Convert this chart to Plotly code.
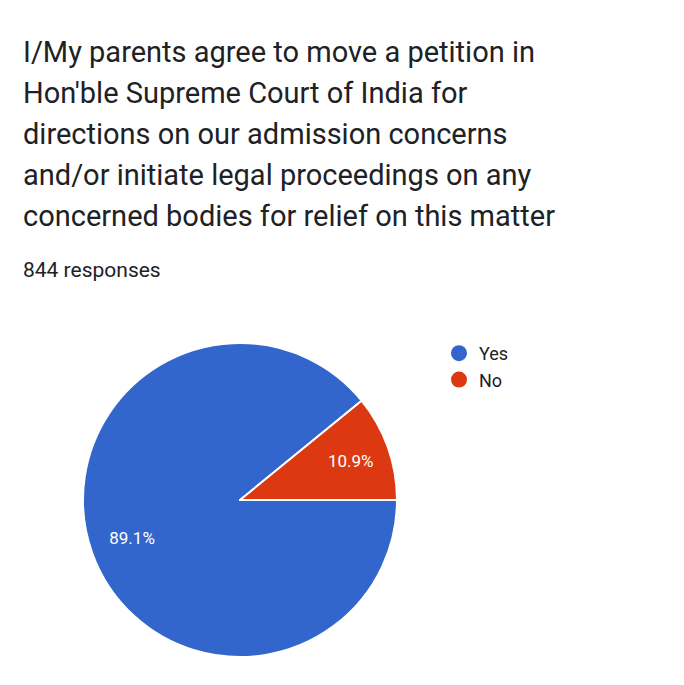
import plotly.graph_objects as go

title_lines = [
    "I/My parents agree to move a petition in",
    "Hon'ble Supreme Court of India for",
    "directions on our admission concerns",
    "and/or initiate legal proceedings on any",
    "concerned bodies for relief on this matter",
]
subtitle = "844 responses"
labels = ["Yes", "No"]
values = [752, 92]
colors = ["#3366cc", "#dc3912"]

W, H = 684, 685
dom = dict(x=[83 / W, 397 / W], y=[1 - 657 / H, 1 - 343 / H])
fig = go.Figure()
fig.add_trace(go.Pie(
    labels=labels, values=values, sort=False, direction="clockwise", rotation=90,
    marker=dict(colors=colors, line=dict(color="white", width=2)),
    textinfo="none", showlegend=False, hoverinfo="label+percent", domain=dom,
))
# text layer: same data, transparent ring so labels sit at ~0.73 of the radius
fig.add_trace(go.Pie(
    labels=labels, values=values, sort=False, direction="clockwise", rotation=90,
    hole=0.46,
    marker=dict(colors=["rgba(0,0,0,0)"] * len(values), line=dict(width=0)),
    texttemplate="%{percent:.1%}", textposition="inside",
    insidetextorientation="horizontal",
    textfont=dict(color="white", size=17, family="Roboto"),
    showlegend=False, hoverinfo="skip", domain=dom,
))
for lab, col in zip(labels, colors):
    fig.add_trace(go.Scatter(x=[None], y=[None], mode="markers", name=lab,
                             marker=dict(color=col, size=16, symbol="circle")))

for i, line in enumerate(title_lines):
    fig.add_annotation(text=line, x=21 / W, y=1 - (52 + 41 * i) / H, xref="paper", yref="paper",
                       xanchor="left", yanchor="middle", showarrow=False,
                       font=dict(family="Roboto", size=29, color="#202124"))
fig.add_annotation(text=subtitle, x=21 / W, y=1 - 270 / H, xref="paper", yref="paper",
                   xanchor="left", yanchor="middle", showarrow=False,
                   font=dict(family="Roboto", size=21, color="#202124"))

fig.update_layout(
    width=W, height=H, margin=dict(l=0, r=0, t=0, b=0),
    paper_bgcolor="white", plot_bgcolor="white",
    xaxis=dict(visible=False), yaxis=dict(visible=False),
    legend=dict(x=439 / W, y=1 - 335 / H, xanchor="left", yanchor="top",
                font=dict(family="Roboto", size=18, color="#202124"),
                itemwidth=30, tracegroupgap=0, bgcolor="rgba(0,0,0,0)"),
)
fig.write_html("out.html")
